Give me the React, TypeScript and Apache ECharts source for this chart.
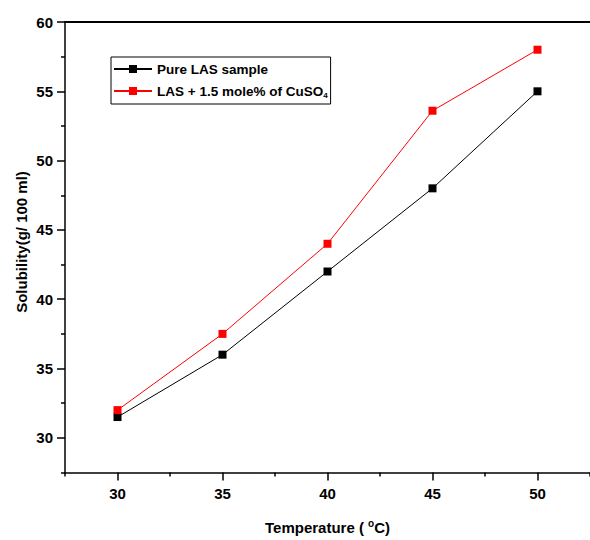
import React, { useEffect, useRef } from "react";
import * as echarts from "echarts";

const temperature = [30, 35, 40, 45, 50];
const pureLAS = [31.5, 36, 42, 48, 55];
const lasCuSO4 = [32, 37.5, 44, 53.6, 58];
const seriesNames = ["Pure LAS sample", "LAS + 1.5 mole% of CuSO4"];
const xMajor = [30, 35, 40, 45, 50];
const xMinor = [27.5, 32.5, 37.5, 42.5, 47.5, 52.5];
const yMajor = [30, 35, 40, 45, 50, 55, 60];
const yMinor = [27.5, 32.5, 37.5, 42.5, 47.5, 52.5, 57.5];
const yTitle = "Solubility(g/ 100 ml)";

const FONT = "'Liberation Sans', Arial, sans-serif";

export default function App() {
  const ref = useRef<HTMLDivElement>(null);
  useEffect(() => {
    document.body.style.margin = "0";
    if (!ref.current) return;
    const chart = echarts.init(ref.current, null, { renderer: "svg" });
    const labelStyle = { color: "#000", fontFamily: FONT, fontWeight: "bold" as const, fontSize: 15 };
    chart.setOption({
      animation: false,
      backgroundColor: "#fff",
      grid: { left: 65, right: -3, top: 22, bottom: 63 },
      legend: {
        orient: "vertical",
        left: 111,
        top: 57,
        borderColor: "#000",
        borderWidth: 1,
        padding: [5, 3, 5, 2],
        itemWidth: 38,
        itemHeight: 10,
        itemGap: 8,
        data: seriesNames,
        formatter: (name: string) =>
          name === seriesNames[1] ? "{n|LAS + 1.5 mole% of CuSO}{s|4}" : "{n|" + name + "}",
        textStyle: {
          color: "#000",
          fontFamily: FONT,
          fontWeight: "bold",
          fontSize: 13.5,
          rich: {
            n: { color: "#000", fontFamily: FONT, fontWeight: "bold", fontSize: 13.5, lineHeight: 16 },
            s: { color: "#000", fontFamily: FONT, fontWeight: "bold", fontSize: 8, lineHeight: 16, verticalAlign: "bottom" },
          },
        },
      },
      graphic: [
        {
          type: "text",
          x: 21,
          y: 242,
          rotation: Math.PI / 2,
          style: {
            text: yTitle,
            fill: "#000",
            font: "bold 15px " + FONT,
            align: "center",
            verticalAlign: "middle",
          },
        },
      ],
      xAxis: [
        {
          type: "value",
          min: 27.5,
          max: 52.5,
          position: "bottom",
          axisLine: { show: true, lineStyle: { color: "#000", width: 1.5 } },
          axisTick: { show: true, customValues: xMajor, length: 8, lineStyle: { color: "#000", width: 1.5 } },
          axisLabel: { customValues: xMajor, margin: 13, ...labelStyle },
          splitLine: { show: false },
          name: "{t|Temperature ( }{sup|o}{t|C)}",
          nameLocation: "middle",
          nameGap: 46,
          nameTextStyle: {
            rich: {
              t: { ...labelStyle, lineHeight: 18 },
              sup: { color: "#000", fontFamily: FONT, fontWeight: "bold", fontSize: 10, lineHeight: 18, verticalAlign: "top" },
            },
          },
        },
        {
          type: "value",
          min: 27.5,
          max: 52.5,
          position: "bottom",
          axisLine: { show: false },
          axisTick: { show: true, customValues: xMinor, length: 4, lineStyle: { color: "#000", width: 1.5 } },
          axisLabel: { show: false },
          splitLine: { show: false },
        },
        {
          type: "value",
          min: 27.5,
          max: 52.5,
          position: "top",
          axisLine: { show: true, lineStyle: { color: "#000", width: 2 } },
          axisTick: { show: false },
          axisLabel: { show: false },
          splitLine: { show: false },
        },
      ],
      yAxis: [
        {
          type: "value",
          min: 27.5,
          max: 60,
          position: "left",
          axisLine: { show: true, lineStyle: { color: "#000", width: 1.5 } },
          axisTick: { show: true, customValues: yMajor, length: 8, lineStyle: { color: "#000", width: 1.5 } },
          axisLabel: { customValues: yMajor, margin: 12, ...labelStyle },
          splitLine: { show: false },
        },
        {
          type: "value",
          min: 27.5,
          max: 60,
          position: "left",
          axisLine: { show: false },
          axisTick: { show: true, customValues: yMinor, length: 4, lineStyle: { color: "#000", width: 1.5 } },
          axisLabel: { show: false },
          splitLine: { show: false },
        },
      ],
      series: [
        {
          name: seriesNames[0],
          type: "line",
          xAxisIndex: 0,
          yAxisIndex: 0,
          data: temperature.map((t, i) => [t, pureLAS[i]]),
          symbol: "rect",
          symbolSize: 8,
          lineStyle: { color: "#000", width: 1 },
          itemStyle: { color: "#000" },
        },
        {
          name: seriesNames[1],
          type: "line",
          xAxisIndex: 0,
          yAxisIndex: 0,
          data: temperature.map((t, i) => [t, lasCuSO4[i]]),
          symbol: "rect",
          symbolSize: 8,
          lineStyle: { color: "#ff0000", width: 1 },
          itemStyle: { color: "#ff0000" },
        },
      ],
    });
    return () => chart.dispose();
  }, []);
  return <div ref={ref} style={{ width: 590, height: 540 }} />;
}
